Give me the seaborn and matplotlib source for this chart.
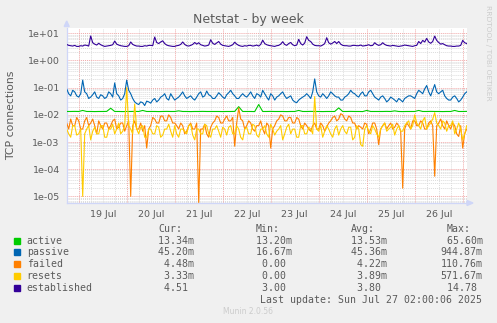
import numpy as np
import pandas as pd
import matplotlib
matplotlib.use("Agg")
import matplotlib.pyplot as plt
from matplotlib.patches import Rectangle, Polygon
import seaborn as sns

# ---------------- data ----------------
series_names = ["active", "passive", "failed", "resets", "established"]
series_colors = ["#00CC00", "#0066B3", "#FF8000", "#FFCC00", "#330099"]
hours_2h = list(range(0, 201, 2))   # hours since Jul 18 18:00, 2-hour steps
hours_1h = list(range(0, 201, 1))   # 1-hour steps

active = [0.0133, 0.0133, 0.0134, 0.0133, 0.0145, 0.0133, 0.0133, 0.0132, 0.0133, 0.0133,
          0.0134, 0.0175, 0.0133, 0.0133, 0.0132, 0.0133, 0.0133, 0.0134, 0.0133, 0.0145,
          0.0133, 0.0133, 0.0133, 0.0132, 0.0133, 0.0134, 0.0133, 0.0133, 0.0140, 0.0133,
          0.0133, 0.0132, 0.0133, 0.0133, 0.0134, 0.0133, 0.0133, 0.0133, 0.0133, 0.0132,
          0.0133, 0.0133, 0.0134, 0.0200, 0.0133, 0.0133, 0.0133, 0.0132, 0.0240, 0.0133,
          0.0133, 0.0134, 0.0133, 0.0133, 0.0133, 0.0132, 0.0133, 0.0133, 0.0145, 0.0133,
          0.0133, 0.0134, 0.0133, 0.0133, 0.0132, 0.0133, 0.0133, 0.0133, 0.0180, 0.0133,
          0.0133, 0.0134, 0.0133, 0.0133, 0.0132, 0.0145, 0.0133, 0.0133, 0.0133, 0.0133,
          0.0134, 0.0133, 0.0140, 0.0133, 0.0132, 0.0133, 0.0133, 0.0133, 0.0145, 0.0133,
          0.0133, 0.0134, 0.0133, 0.0133, 0.0132, 0.0133, 0.0133, 0.0145, 0.0133, 0.0133,
          0.0134]

passive = [0.09, 0.06, 0.05, 0.08, 0.07, 0.05, 0.045, 0.06, 0.19, 0.07,
           0.06, 0.04, 0.045, 0.055, 0.07, 0.045, 0.04, 0.055, 0.05, 0.04,
           0.045, 0.07, 0.06, 0.045, 0.15, 0.06, 0.05, 0.035, 0.04, 0.06,
           0.19, 0.08, 0.06, 0.04, 0.03, 0.026, 0.024, 0.03, 0.028, 0.022,
           0.032, 0.03, 0.027, 0.035, 0.04, 0.03, 0.035, 0.045, 0.05, 0.06,
           0.04, 0.035, 0.06, 0.045, 0.035, 0.04, 0.045, 0.055, 0.07, 0.05,
           0.04, 0.045, 0.05, 0.04, 0.035, 0.045, 0.06, 0.07, 0.045, 0.05,
           0.075, 0.055, 0.05, 0.04, 0.04, 0.05, 0.065, 0.055, 0.045, 0.04,
           0.055, 0.065, 0.08, 0.06, 0.05, 0.04, 0.04, 0.05, 0.06, 0.05,
           0.045, 0.055, 0.07, 0.05, 0.04, 0.06, 0.055, 0.045, 0.08, 0.06,
           0.045, 0.035, 0.06, 0.05, 0.035, 0.045, 0.05, 0.06, 0.07, 0.05,
           0.04, 0.045, 0.05, 0.035, 0.03, 0.028, 0.035, 0.04, 0.045, 0.05,
           0.06, 0.05, 0.04, 0.07, 0.21, 0.07, 0.05, 0.045, 0.06, 0.05,
           0.04, 0.05, 0.07, 0.06, 0.05, 0.045, 0.045, 0.035, 0.035, 0.045,
           0.05, 0.06, 0.08, 0.065, 0.06, 0.05, 0.045, 0.06, 0.07, 0.05,
           0.05, 0.07, 0.08, 0.06, 0.045, 0.04, 0.035, 0.045, 0.05, 0.04,
           0.03, 0.035, 0.045, 0.04, 0.035, 0.03, 0.04, 0.035, 0.03, 0.04,
           0.045, 0.05, 0.05, 0.045, 0.04, 0.06, 0.08, 0.07, 0.06, 0.09,
           0.12, 0.07, 0.05, 0.08, 0.13, 0.07, 0.06, 0.07, 0.08, 0.05,
           0.04, 0.035, 0.035, 0.045, 0.05, 0.04, 0.03, 0.035, 0.045, 0.06,
           0.07]

failed = [0.005, 0.003, 0.007, 0.004, 0.004, 0.008, 0.006, 0.003, 0.003, 0.006,
          0.008, 0.004, 0.005, 0.007, 0.004, 0.002, 0.006, 0.004, 0.003, 0.005,
          0.005, 0.003, 0.004, 0.006, 0.007, 0.003, 0.0035, 0.005, 0.005, 0.0025,
          0.004, 0.006, 0.00001, 0.004, 0.006, 0.003, 0.003, 0.005, 0.0025, 0.004,
          0.0006, 0.003, 0.004, 0.008, 0.007, 0.005, 0.005, 0.009, 0.009, 0.006,
          0.006, 0.01, 0.008, 0.005, 0.005, 0.004, 0.003, 0.005, 0.004, 0.002,
          0.0025, 0.004, 0.005, 0.003, 0.003, 0.005, 0.000006, 0.003, 0.003, 0.0045,
          0.002, 0.0015, 0.0035, 0.005, 0.006, 0.009, 0.008, 0.005, 0.005, 0.007,
          0.009, 0.006, 0.006, 0.008, 0.0007, 0.005, 0.018, 0.007, 0.006, 0.003,
          0.004, 0.006, 0.005, 0.003, 0.0025, 0.004, 0.004, 0.006, 0.003, 0.002,
          0.005, 0.004, 0.0006, 0.003, 0.004, 0.006, 0.007, 0.01, 0.009, 0.006,
          0.006, 0.008, 0.008, 0.005, 0.005, 0.008, 0.007, 0.004, 0.003, 0.005,
          0.004, 0.003, 0.0025, 0.004, 0.005, 0.003, 0.003, 0.005, 0.004, 0.0025,
          0.0035, 0.005, 0.006, 0.008, 0.009, 0.006, 0.007, 0.011, 0.01, 0.007,
          0.006, 0.009, 0.008, 0.005, 0.005, 0.003, 0.004, 0.0035, 0.003, 0.005,
          0.0045, 0.002, 0.003, 0.005, 0.005, 0.003, 0.0008, 0.003, 0.004, 0.005,
          0.003, 0.004, 0.005, 0.003, 0.0035, 0.005, 0.004, 0.0025, 0.00002, 0.003,
          0.005, 0.004, 0.003, 0.006, 0.006, 0.004, 0.004, 0.006, 0.005, 0.003,
          0.003, 0.005, 0.006, 0.004, 0.000055, 0.004, 0.005, 0.007, 0.004, 0.003,
          0.006, 0.004, 0.003, 0.005, 0.004, 0.002, 0.0016, 0.004, 0.0006, 0.002,
          0.003]

resets = [0.003, 0.002, 0.0015, 0.004, 0.004, 0.0018, 0.002, 0.003, 0.00001, 0.002,
          0.003, 0.004, 0.0012, 0.0025, 0.0035, 0.002, 0.002, 0.004, 0.004, 0.0015,
          0.0015, 0.003, 0.003, 0.0045, 0.002, 0.003, 0.005, 0.002, 0.0025, 0.004,
          0.1, 0.004, 0.003, 0.002, 0.025, 0.003, 0.002, 0.0035, 0.004, 0.0015,
          0.0015, 0.003, 0.003, 0.002, 0.002, 0.004, 0.0035, 0.0015, 0.0018, 0.003,
          0.003, 0.0045, 0.0025, 0.0015, 0.004, 0.002, 0.0015, 0.003, 0.003, 0.0025,
          0.002, 0.004, 0.0045, 0.0018, 0.0012, 0.003, 0.003, 0.002, 0.002, 0.0045,
          0.004, 0.002, 0.0015, 0.003, 0.003, 0.004, 0.0025, 0.0015, 0.0035, 0.003,
          0.0018, 0.0035, 0.004, 0.002, 0.002, 0.004, 0.003, 0.0015, 0.0012, 0.003,
          0.0035, 0.002, 0.002, 0.0045, 0.004, 0.0018, 0.0015, 0.003, 0.003, 0.004,
          0.002, 0.0015, 0.0045, 0.003, 0.0018, 0.0025, 0.003, 0.004, 0.0012, 0.002,
          0.0035, 0.0045, 0.002, 0.003, 0.003, 0.0015, 0.0015, 0.004, 0.004, 0.002,
          0.002, 0.0035, 0.003, 0.002, 0.047, 0.003, 0.0025, 0.004, 0.0015, 0.0025,
          0.004, 0.003, 0.002, 0.0015, 0.003, 0.004, 0.0018, 0.003, 0.004, 0.0025,
          0.002, 0.0035, 0.0035, 0.0012, 0.0015, 0.004, 0.003, 0.0008, 0.0007, 0.003,
          0.004, 0.0025, 0.002, 0.004, 0.003, 0.002, 0.0015, 0.003, 0.004, 0.005,
          0.0025, 0.003, 0.0035, 0.0045, 0.0018, 0.003, 0.004, 0.0025, 0.0025, 0.004,
          0.005, 0.006, 0.003, 0.004, 0.01, 0.005, 0.004, 0.003, 0.006, 0.008,
          0.003, 0.004, 0.005, 0.007, 0.012, 0.005, 0.004, 0.003, 0.006, 0.005,
          0.0025, 0.004, 0.004, 0.006, 0.002, 0.003, 0.005, 0.003, 0.0012, 0.002,
          0.004]

established = [3.9, 3.6, 3.5, 3.4, 3.6, 3.3, 3.3, 3.5, 3.4, 3.7,
               3.6, 3.4, 8.0, 4.5, 4.0, 3.7, 4.3, 3.8, 3.5, 3.3,
               3.4, 3.5, 3.6, 3.8, 5.2, 4.0, 3.7, 3.5, 3.4, 3.3,
               3.3, 3.5, 4.8, 3.9, 3.6, 3.4, 3.4, 3.3, 3.3, 3.5,
               3.4, 3.6, 3.6, 3.5, 7.3, 4.6, 4.2, 4.8, 5.3, 4.2,
               3.7, 3.5, 3.4, 3.3, 3.3, 3.5, 3.6, 3.9, 4.8, 3.9,
               3.5, 3.4, 3.6, 3.9, 4.6, 4.0, 4.5, 3.8, 3.6, 3.4,
               3.5, 3.7, 5.8, 4.3, 3.9, 4.4, 5.0, 4.0, 3.6, 3.5,
               3.4, 3.3, 3.5, 3.8, 4.7, 4.0, 3.6, 3.4, 3.3, 3.5,
               3.4, 3.6, 3.6, 3.4, 3.5, 3.7, 3.4, 3.9, 5.6, 4.2,
               3.8, 3.6, 3.5, 3.4, 3.3, 3.5, 3.6, 4.0, 4.9, 3.9,
               3.6, 4.2, 4.6, 3.8, 3.5, 3.7, 6.0, 4.2, 3.7, 4.4,
               7.5, 5.5, 5.0, 4.0, 3.6, 3.5, 3.5, 3.4, 3.7, 4.2,
               6.9, 4.5, 4.0, 4.4, 5.0, 4.2, 5.0, 4.0, 3.6, 3.5,
               3.5, 3.4, 3.4, 3.6, 3.6, 3.5, 3.5, 3.7, 3.4, 3.5,
               3.6, 3.8, 3.5, 3.6, 4.5, 3.9, 3.6, 3.8, 4.5, 3.9,
               3.6, 3.5, 3.4, 3.6, 3.5, 3.4, 3.3, 3.4, 3.5, 3.7,
               3.6, 3.5, 3.4, 3.3, 3.5, 3.6, 5.0, 4.2, 5.5, 4.8,
               6.5, 4.8, 4.3, 5.0, 7.9, 5.5, 4.6, 4.0, 4.2, 3.8,
               3.5, 3.4, 3.4, 3.3, 3.3, 3.4, 3.4, 3.6, 5.5, 4.5,
               4.2]

day_labels = ["19 Jul", "20 Jul", "21 Jul", "22 Jul", "23 Jul", "24 Jul", "25 Jul", "26 Jul"]
y_tick_values = [1e-5, 1e-4, 1e-3, 1e-2, 1e-1, 1e0, 1e1]
y_tick_labels = ["1e-05", "1e-04", "1e-03", "1e-02", "1e-01", "1e+00", "1e+01"]

cur_vals = ["13.34m", "45.20m", "4.48m", "3.33m", "4.51"]
min_vals = ["13.20m", "16.67m", "0.00", "0.00", "3.00"]
avg_vals = ["13.53m", "45.36m", "4.22m", "3.89m", "3.80"]
max_vals = ["65.60m", "944.87m", "110.76m", "571.67m", "14.78"]

title = "Netstat - by week"
ylabel = "TCP connections"
last_update = "Last update: Sun Jul 27 02:00:06 2025"

# ---------------- figure ----------------
series_data = [(hours_2h, active), (hours_1h, passive), (hours_1h, failed),
               (hours_1h, resets), (hours_1h, established)]
df = pd.concat([pd.DataFrame({"hour": hx, "value": vals, "series": name})
                for name, (hx, vals) in zip(series_names, series_data)],
               ignore_index=True)

W, H = 497, 323
fx = lambda x: x / W
fy = lambda y: 1 - y / H

fig = plt.figure(figsize=(W / 100, H / 100), dpi=100, facecolor="#F0F0F0")
ax = fig.add_axes([fx(66.7), fy(203), 400 / W, 175.3 / H])
ax.set_facecolor("white")

GRID = "#DCDCDC"
MGRID = "#F0A8A8"
AXIS = "#CFD6F8"
FONT = "#5a5a5a"

ax.set_yscale("log")
ax.set_ylim(5.7e-6, 16.1)
ax.set_xlim(0, 200)

# grid lines
for h in range(0, 201, 6):
    if (h - 6) % 24 == 0:
        ax.axvline(h, color=MGRID, lw=0.7, ls=(0, (1, 1)), zorder=0.6)
    else:
        ax.axvline(h, color=GRID, lw=0.7, ls=(0, (1, 1)), zorder=0.5)
for d in range(-6, 2):
    for m in range(2, 10):
        ax.axhline(m * 10.0 ** d, color=GRID, lw=0.7, ls=(0, (1, 1)), zorder=0.5)
    ax.axhline(10.0 ** d, color=MGRID, lw=0.7, ls=(0, (1, 1)), zorder=0.6)

sns.lineplot(data=df, x="hour", y="value", hue="series", hue_order=series_names,
             palette=series_colors, legend=False, linewidth=0.8, ax=ax,
             estimator=None, sort=False, zorder=3)

ax.set_xticks([18 + 24 * k for k in range(len(day_labels))])
ax.set_xticklabels(day_labels)
ax.set_yticks(y_tick_values)
ax.set_yticklabels(y_tick_labels)
ax.minorticks_off()
ax.tick_params(axis="both", length=0, labelsize=6.8, labelcolor=FONT)
ax.tick_params(axis="x", pad=5)
ax.tick_params(axis="y", pad=5)
ax.set_xlabel("")
ax.set_ylabel("")
for s in ["top", "right"]:
    ax.spines[s].set_visible(False)
for s in ["left", "bottom"]:
    ax.spines[s].set_color(AXIS)
    ax.spines[s].set_linewidth(0.9)

# arrows
fig.add_artist(Polygon([[fx(64.2), fy(26.5)], [fx(69.2), fy(26.5)], [fx(66.7), fy(21)]],
                       closed=True, color=AXIS, transform=fig.transFigure))
fig.add_artist(Polygon([[fx(467), fy(200.5)], [fx(467), fy(205.5)], [fx(473), fy(203)]],
                       closed=True, color=AXIS, transform=fig.transFigure))

# texts
fig.text(fx(248.5), fy(19), title, ha="center", va="center", fontsize=9, color=FONT)
fig.text(fx(10.7), fy(115), ylabel, ha="center", va="center", rotation=90,
         fontsize=7.8, color=FONT)
fig.text(fx(488), fy(53), "RRDTOOL / TOBI OETIKER", ha="center", va="center",
         rotation=270, fontsize=5.4, color="#CCCCCC")
fig.text(fx(247.7), fy(312), "Munin 2.0.56", ha="center", va="center",
         fontsize=5.5, color="#CCCCCC")

# legend table
mono = "DejaVu Sans Mono"
fs = 7.1
cw = 5.96
hdr_y = 228.7
row_y = [240.5, 252.3, 264.1, 275.9, 287.7]
col_start = [152.3, 249.9, 344.9, 440.6]
headers = ["Cur:", "Min:", "Avg:", "Max:"]
for hx, htxt in zip(col_start, headers):
    fig.text(fx(hx + cw), fy(hdr_y), htxt, ha="left", va="center",
             fontsize=fs, family=mono, color=FONT)


def fmt(s):
    s = s if s.endswith("m") else s + " "
    return s.rjust(7)


for i, name in enumerate(series_names):
    y = row_y[i]
    fig.add_artist(Rectangle((fx(14), fy(y + 3)), 6 / W, 6 / H, color=series_colors[i],
                             transform=fig.transFigure))
    fig.text(fx(26.7), fy(y), name, ha="left", va="center", fontsize=fs,
             family=mono, color=FONT)
    for cx, vals in zip(col_start, [cur_vals, min_vals, avg_vals, max_vals]):
        fig.text(fx(cx), fy(y), fmt(vals[i]), ha="left", va="center", fontsize=fs,
                 family=mono, color=FONT)

fig.text(fx(482.3), fy(300), last_update, ha="right", va="center", fontsize=fs,
         family=mono, color=FONT)

fig.savefig("out.png", dpi=100, facecolor=fig.get_facecolor())
